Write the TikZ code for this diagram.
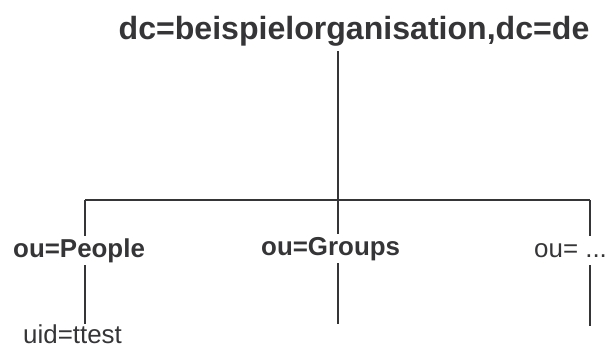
\documentclass[tikz,border=0pt]{standalone}
\usepackage{fontspec}
\setmainfont{Liberation Sans}
\usepackage{tikz}
\definecolor{ink}{HTML}{353538}

\begin{document}
\begin{tikzpicture}[
  lbl/.style={inner sep=0pt,text=ink,font=\fontsize{26}{30}\selectfont,text height=21bp,text depth=8bp},
  bold lbl/.style={lbl,font=\fontsize{26}{30}\selectfont\bfseries},
  tree/.style={draw=ink,line width=1.5bp}]

\useasboundingbox (0bp,0bp) rectangle (609bp,-354bp);

\node (root) at (354bp,-39bp)[inner sep=0pt,text=ink,font=\fontsize{32.2}{36}\selectfont\bfseries,text depth=12bp,anchor=base] {dc=beispielorganisation,dc=de};
\node (people) at (13bp,-257bp)[bold lbl,anchor=base west] {ou=People};
\node (groups) at (261bp,-255bp)[bold lbl,anchor=base west] {ou=Groups};
\node (more) at (534bp,-257bp)[lbl,anchor=base west] {ou= ...};
\node (uid) at (23bp,-343bp)[lbl,text height=19bp,text depth=4bp,anchor=base west] {uid=ttest};

\coordinate (j1) at (85bp,-200bp);
\coordinate (j2) at (338bp,-200bp);
\coordinate (j3) at (590bp,-200bp);
\coordinate (gend) at (338bp,-324bp);
\coordinate (mend) at (590bp,-326bp);

\draw [tree] (root.south -| j2) -- (j2);
\draw [tree] (j1) -- (j3);
\draw [tree] (j1) -- (people.north -| j1);
\draw [tree] (j2) -- (groups.north -| j2);
\draw [tree] (j3) -- (more.north -| j3);
\draw [tree] (people.south -| j1) -- (uid.north -| j1);
\draw [tree] (groups.south -| j2) -- (gend);
\draw [tree] (more.south -| j3) -- (mend);
\end{tikzpicture}
\end{document}
